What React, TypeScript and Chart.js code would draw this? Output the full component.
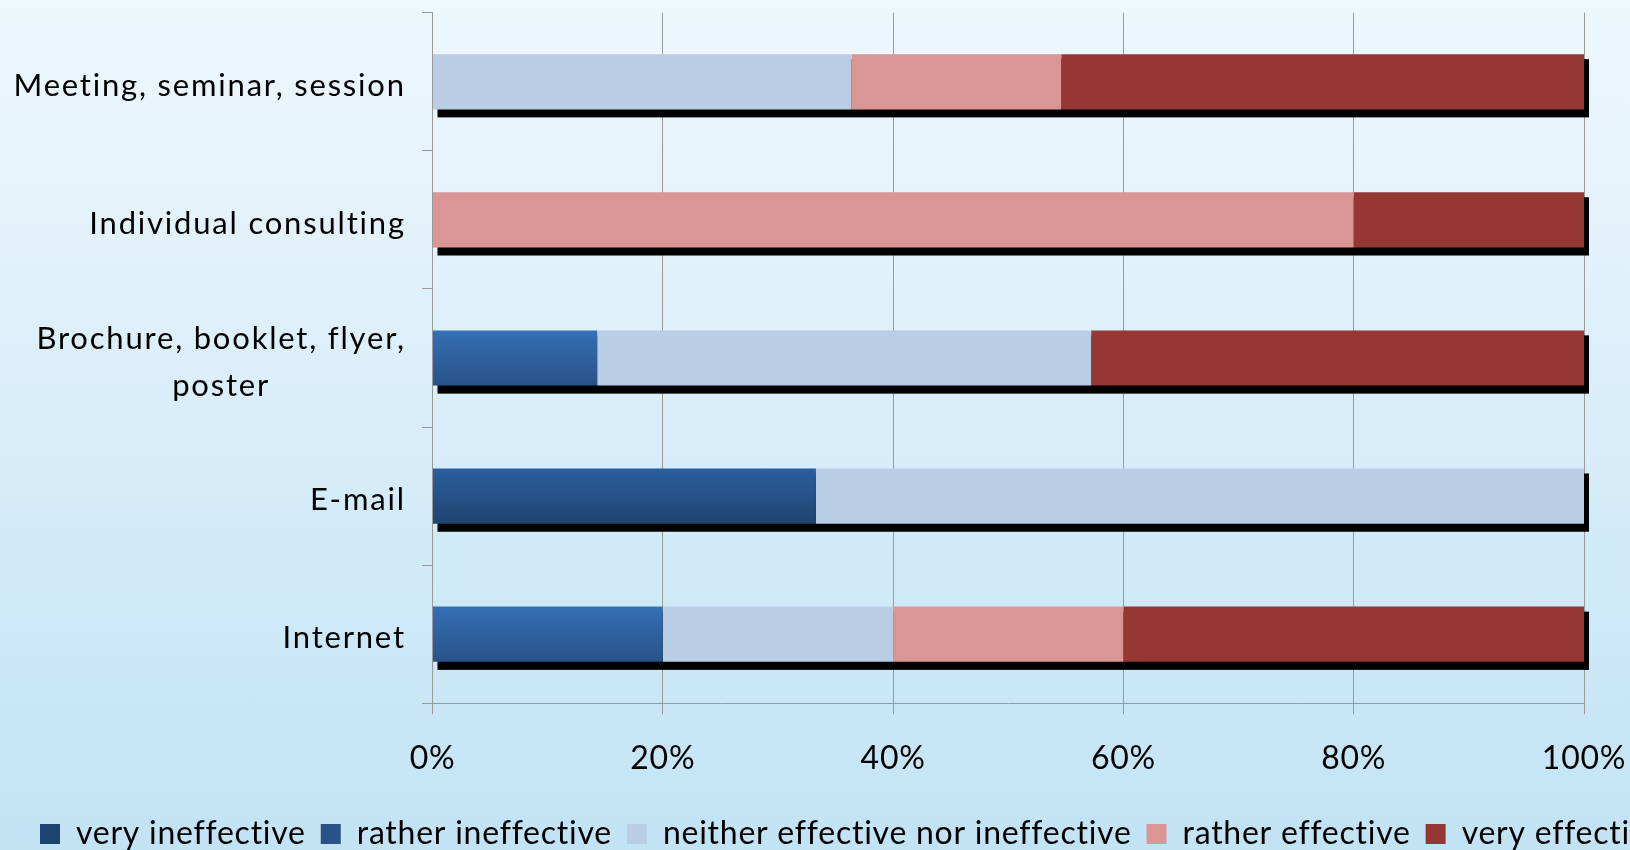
import React, { useEffect, useRef } from "react";
import { Chart, registerables } from "chart.js";

Chart.register(...registerables);

// ---- data ----
const categories: string[][] = [
  ["Meeting, seminar, session"],
  ["Individual consulting"],
  ["Brochure, booklet, flyer,", "poster"],
  ["E-mail"],
  ["Internet"],
];
const seriesNames = [
  "very ineffective",
  "rather ineffective",
  "neither effective nor ineffective",
  "rather effective",
  "very effective",
];
const veryIneffective = [0, 0, 0, 33.3, 0];
const ratherIneffective = [0, 0, 14.3, 0, 20];
const neitherNor = [36.4, 0, 42.9, 66.7, 20];
const ratherEffective = [18.2, 80, 0, 0, 20];
const veryEffective = [45.4, 20, 42.8, 0, 40];
const xTickValues = [0, 20, 40, 60, 80, 100];

const FONT = "Lato, 'Open Sans', sans-serif";
const GRID = "#9a9a9a";

const allSeries = [veryIneffective, ratherIneffective, neitherNor, ratherEffective, veryEffective];

function barGradient(top: string, bottom: string, solid: string) {
  return (c: any) => {
    const chart = c.chart;
    const ys = chart.scales && chart.scales.y;
    if (c.type !== "data" || !ys) return solid;
    const band = Math.abs(ys.getPixelForValue(1) - ys.getPixelForValue(0));
    const h = band * 0.4;
    const cy = ys.getPixelForValue(c.dataIndex);
    if (!isFinite(cy) || !isFinite(h) || h <= 0) return solid;
    const g = chart.ctx.createLinearGradient(0, cy - h / 2, 0, cy + h / 2);
    g.addColorStop(0, top);
    g.addColorStop(1, bottom);
    return g;
  };
}

const spacingPlugin = {
  id: "spacing",
  beforeUpdate(chart: any) {
    (chart.ctx as any).letterSpacing = "0.75px";
  },
  beforeDraw(chart: any) {
    (chart.ctx as any).letterSpacing = "0.75px";
  },
};

const decorPlugin = {
  id: "decor",
  beforeDatasetsDraw(chart: any) {
    const ctx = chart.ctx;
    const xs = chart.scales.x;
    const meta0 = chart.getDatasetMeta(0);
    ctx.save();
    ctx.fillStyle = "#000000";
    categories.forEach((_, i) => {
      const el = meta0.data[i];
      if (!el) return;
      const total = allSeries.reduce((s, arr) => s + arr[i], 0);
      const x0 = xs.getPixelForValue(0);
      const x1 = xs.getPixelForValue(total);
      const h = el.height;
      const top = el.y - h / 2;
      ctx.fillRect(x0 + 5, top + 5, x1 - x0, h + 3);
    });
    ctx.restore();
  },
  afterDraw(chart: any) {
    const ctx = chart.ctx;
    const ys = chart.scales.y;
    const right = chart.chartArea.left - 28.5;
    ctx.save();
    ctx.font = `31px ${FONT}`;
    (ctx as any).letterSpacing = "1.8px";
    ctx.fillStyle = "#000000";
    ctx.textAlign = "left";
    ctx.textBaseline = "middle";
    categories.forEach((lines, i) => {
      const widths = lines.map((l) => ctx.measureText(l).width - 1.8);
      const w = Math.max(...widths);
      const cx = right - w / 2;
      const cy = ys.getPixelForValue(i) + 4;
      const lh = 47;
      lines.forEach((l, k) => {
        ctx.fillText(l, cx - widths[k] / 2, cy + (k - (lines.length - 1) / 2) * lh);
      });
    });
    ctx.restore();
  },
};

export default function App() {
  const ref = useRef<HTMLCanvasElement | null>(null);

  useEffect(() => {
    if (!ref.current) return;
    const chart = new Chart(ref.current, {
      type: "bar",
      data: {
        labels: categories.map((c) => c.join(" ")),
        datasets: [
          {
            label: seriesNames[0],
            data: veryIneffective,
            backgroundColor: barGradient("#2c5f9e", "#1f4470", "#254f82"),
            borderWidth: 0,
          },
          {
            label: seriesNames[1],
            data: ratherIneffective,
            backgroundColor: barGradient("#356fb5", "#285389", "#2e63a3"),
            borderWidth: 0,
          },
          {
            label: seriesNames[2],
            data: neitherNor,
            backgroundColor: "#b9cde5",
            borderWidth: 0,
          },
          {
            label: seriesNames[3],
            data: ratherEffective,
            backgroundColor: "#da9694",
            borderWidth: 0,
          },
          {
            label: seriesNames[4],
            data: veryEffective,
            backgroundColor: "#953735",
            borderWidth: 0,
          },
        ],
      },
      options: {
        indexAxis: "y",
        animation: false,
        responsive: true,
        maintainAspectRatio: false,
        layout: { padding: { left: 25, top: 12.7, right: 0, bottom: 0 } },
        datasets: { bar: { categoryPercentage: 0.8, barPercentage: 0.5 } },
        plugins: {
          legend: {
            position: "bottom",
            align: "start",
            labels: {
              boxWidth: 20,
              boxHeight: 20,
              padding: 15,
              color: "#000000",
              font: { family: FONT, size: 32 },
            },
          },
          tooltip: { enabled: false },
        },
        scales: {
          x: {
            stacked: true,
            min: 0,
            max: 100,
            position: "bottom",
            afterBuildTicks: (s: any) => {
              s.ticks = xTickValues.map((v) => ({ value: v }));
            },
            ticks: {
              callback: (v: any) => v + "%",
              color: "#000000",
              font: { family: FONT, size: 32 },
              padding: 25.5,
              maxRotation: 0,
              autoSkip: false,
            },
            grid: { color: GRID, lineWidth: 1, tickLength: 11, drawTicks: true },
            border: { color: GRID },
            afterFit: (s: any) => {
              s.height = 99.7;
            },
          },
          y: {
            stacked: true,
            ticks: { display: false },
            grid: { drawOnChartArea: false, drawTicks: true, tickLength: 10.5, color: GRID, offset: true },
            border: { color: GRID },
            afterFit: (s: any) => {
              s.width = 407.5;
            },
          },
          y2: {
            type: "linear",
            position: "right",
            display: true,
            ticks: { display: false },
            grid: { display: false },
            border: { display: false },
            afterFit: (s: any) => {
              s.width = 316;
            },
          },
        },
      } as any,
      plugins: [spacingPlugin, decorPlugin],
    });
    return () => chart.destroy();
  }, []);

  return (
    <div
      style={{
        position: "fixed",
        left: 0,
        top: 0,
        width: 1630,
        height: 850,
        overflow: "hidden",
        background: "linear-gradient(180deg, #eef7fc 0%, #e2f1fa 30%, #d3ebf8 60%, #c2e3f4 100%)",
      }}
    >
      <div style={{ position: "absolute", left: 0, top: 0, width: 1900, height: 860 }}>
        <canvas ref={ref} />
      </div>
    </div>
  );
}
